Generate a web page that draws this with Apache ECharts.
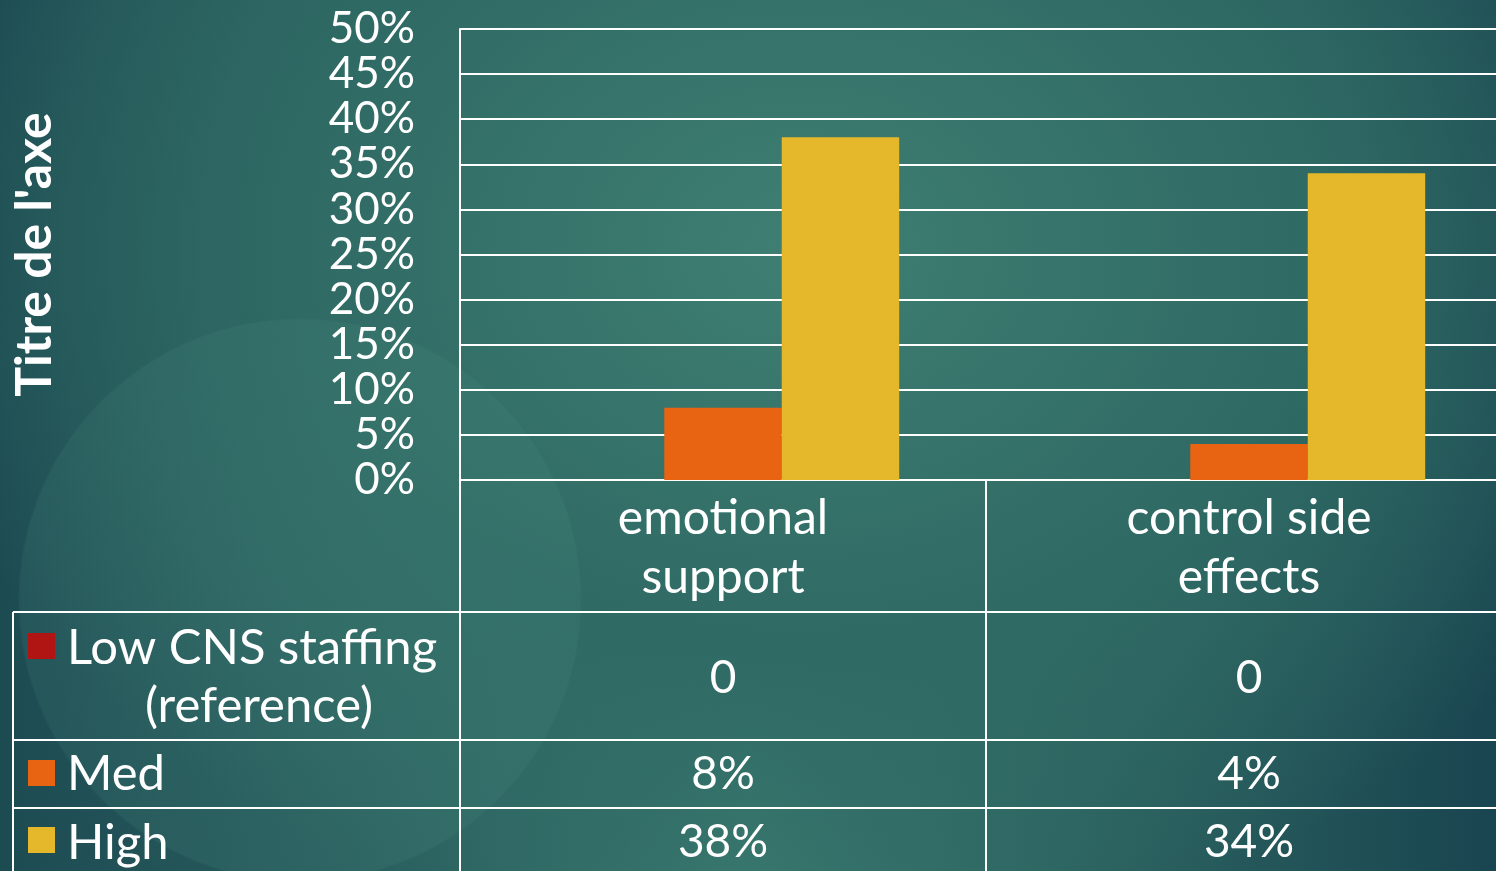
<!DOCTYPE html>
<html>
<head>
<meta charset="utf-8">
<title>Titre de l'axe</title>
<script src="https://cdn.jsdelivr.net/npm/echarts@6/dist/echarts.min.js"></script>
<style>
  html, body { margin: 0; padding: 0; overflow: hidden; }
  #chart {
    width: 1496px;
    height: 871px;
    background:
      radial-gradient(circle at 300px 600px, rgba(80,150,135,0.18) 0, rgba(80,150,135,0.14) 280px, rgba(0,0,0,0) 282px),
      radial-gradient(ellipse at 800px 250px, #3f7f73 0, #2f6a64 45%, rgba(0,0,0,0) 80%),
      linear-gradient(90deg, #1d4b52 0%, #2a5f5f 25%, #3a7a70 50%, #2d6461 72%, #194550 100%);
  }
</style>
</head>
<body>
<div id="chart"></div>
<script>
// categories + series values (fractions)
const categories = ['emotional\nsupport', 'control side\neffects']
const seriesNames = ['Low CNS staffing\n(reference)', 'Med', 'High']
const lowVals = [0, 0]
const medVals = [0.08, 0.04]
const highVals = [0.38, 0.34]
const colors = ['#B01513', '#E86412', '#E4B82A']

const font = 'Lato, "Open Sans", sans-serif'
const white = '#ffffff'

const pct = (v) => (v === 0 ? '0' : Math.round(v * 100) + '%')

const chart = echarts.init(document.getElementById('chart'), null, { renderer: 'canvas' })

// one extra x axis per table row, it only shows labels
const rows = [lowVals, medVals, highVals]
const rowMargins = [198, 294, 362]
const tableAxes = rows.map((vals, r) => ({
  type: 'category',
  data: categories,
  position: 'bottom',
  axisLine: { show: false },
  axisTick: { show: false },
  axisLabel: {
    interval: 0,
    margin: rowMargins[r],
    verticalAlign: 'middle',
    color: white,
    fontFamily: font,
    fontSize: 46,
    formatter: (v, i) => pct(vals[i]),
  },
}))

// row header lines / legend squares
const rowTops = [612, 740, 808]
const graphic = []
rowTops.forEach((y) => {
  graphic.push({
    type: 'line',
    shape: { x1: 13, y1: y, x2: 1496, y2: y },
    style: { stroke: white, lineWidth: 2 },
  })
})
graphic.push({
  type: 'line',
  shape: { x1: 13, y1: 612, x2: 13, y2: 871 },
  style: { stroke: white, lineWidth: 2 },
})
const squareY = [633, 760, 827]
seriesNames.forEach((name, i) => {
  graphic.push({
    type: 'rect',
    shape: { x: 28, y: squareY[i], width: 27, height: 26 },
    style: { fill: colors[i] },
  })
})
const headFont = '49px ' + font
graphic.push({
  type: 'text',
  x: 67, y: 648,
  style: { text: 'Low CNS staffing', fill: white, font: headFont, verticalAlign: 'middle', align: 'left' },
})
graphic.push({
  type: 'text',
  x: 259, y: 706,
  style: { text: '(reference)', fill: white, font: headFont, verticalAlign: 'middle', align: 'center' },
})
graphic.push({
  type: 'text',
  x: 67, y: 774,
  style: { text: seriesNames[1], fill: white, font: headFont, verticalAlign: 'middle', align: 'left' },
})
graphic.push({
  type: 'text',
  x: 67, y: 843,
  style: { text: seriesNames[2], fill: white, font: headFont, verticalAlign: 'middle', align: 'left' },
})

chart.setOption({
  backgroundColor: 'transparent',
  animation: false,
  grid: { left: 460, right: -16, top: 29, bottom: 391, outerBoundsMode: 'none', containLabel: false },
  xAxis: [
    {
      type: 'category',
      data: categories,
      axisLine: { show: true, lineStyle: { color: white, width: 2 } },
      axisTick: { show: true, length: 391, lineStyle: { color: white, width: 2 } },
      axisLabel: {
        interval: 0,
        margin: 68,
        verticalAlign: 'middle',
        color: white,
        fontFamily: font,
        fontSize: 48,
        lineHeight: 59,
      },
    },
    ...tableAxes,
  ],
  yAxis: {
    type: 'value',
    min: 0,
    max: 0.5,
    interval: 0.05,
    name: "Titre de l'axe",
    nameLocation: 'middle',
    nameRotate: 90,
    nameGap: 400,
    nameTextStyle: { color: white, fontFamily: font, fontSize: 50, fontWeight: 'bold' },
    axisLine: { show: true, lineStyle: { color: white, width: 2 } },
    axisTick: { show: false },
    splitLine: { show: true, lineStyle: { color: white, width: 2 } },
    axisLabel: {
      margin: 45,
      color: white,
      fontFamily: font,
      fontSize: 44,
      formatter: (v) => Math.round(v * 100) + '%',
    },
  },
  series: [
    { name: seriesNames[0], type: 'bar', data: lowVals, itemStyle: { color: colors[0] }, barGap: 0, barCategoryGap: '33%' },
    { name: seriesNames[1], type: 'bar', data: medVals, itemStyle: { color: colors[1] }, barGap: 0, barCategoryGap: '33%' },
    { name: seriesNames[2], type: 'bar', data: highVals, itemStyle: { color: colors[2] }, barGap: 0, barCategoryGap: '33%' },
  ],
  graphic: graphic,
})
</script>
</body>
</html>
